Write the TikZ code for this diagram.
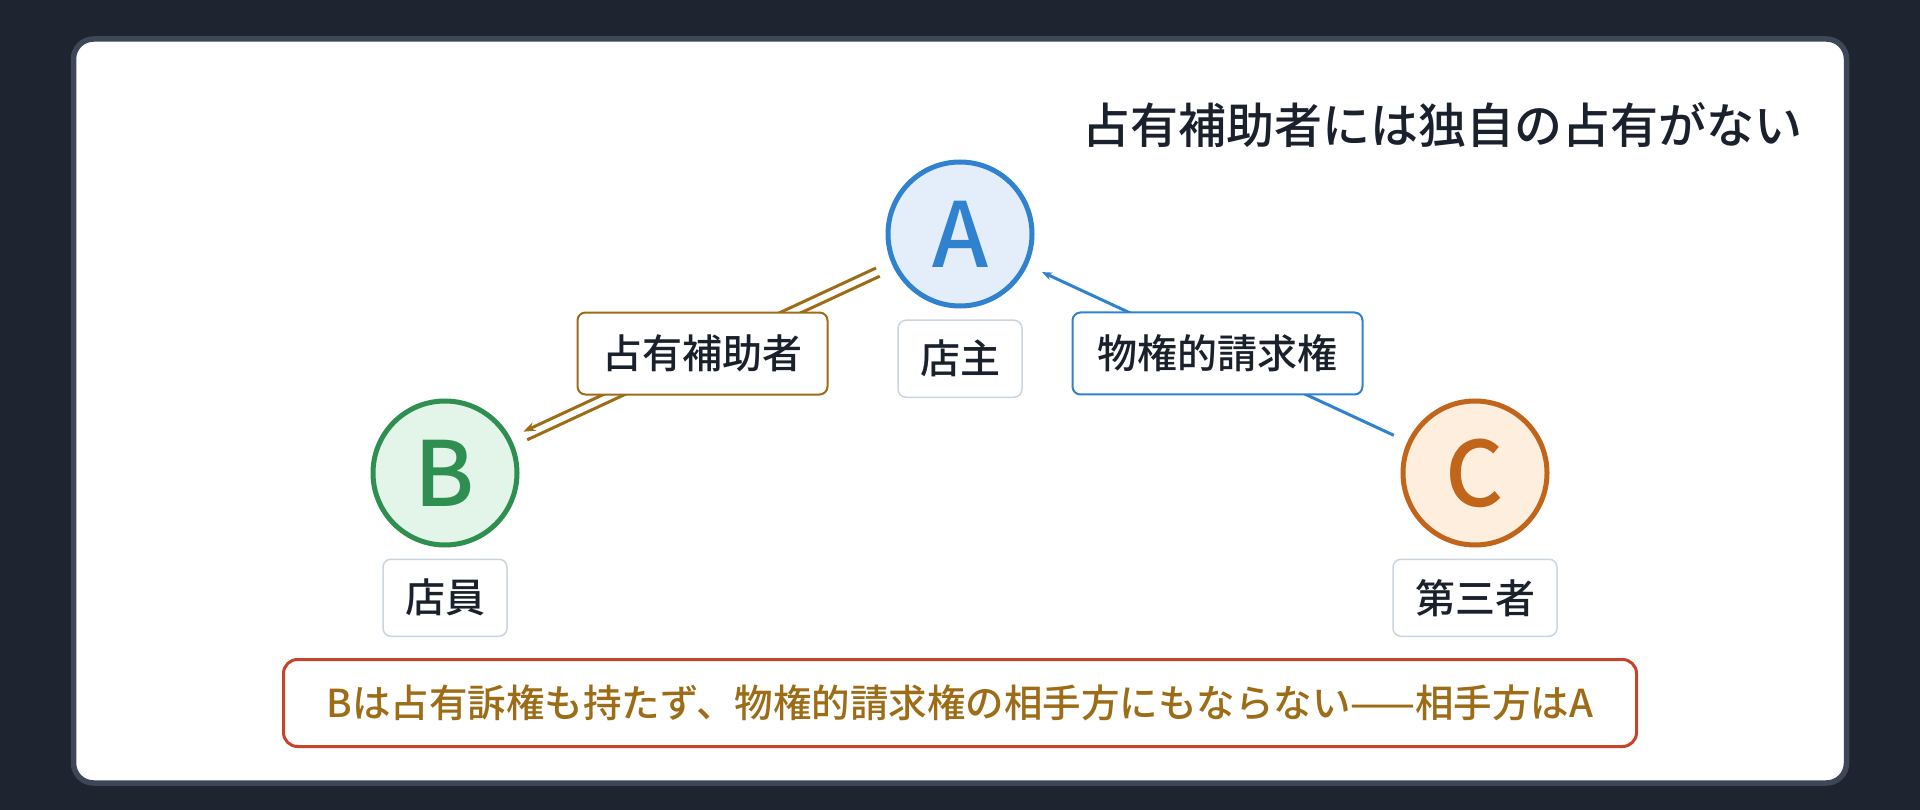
\documentclass[tikz,border=0pt]{standalone}
\usepackage{fontspec}
\setmainfont{Noto Sans CJK JP Medium}[BoldFont={Noto Sans CJK JP Bold}]
\usetikzlibrary{positioning}
\usetikzlibrary{arrows.meta}
\definecolor{pagebg}{HTML}{1E2430}
\definecolor{panelrim}{HTML}{3D4757}
\definecolor{ink}{HTML}{1A202C}
\definecolor{ownerblue}{HTML}{3182CE}
\definecolor{ownerfill}{HTML}{E3EEFA}
\definecolor{clerkgreen}{HTML}{2F8F50}
\definecolor{clerkfill}{HTML}{E3F5E9}
\definecolor{thirdorange}{HTML}{C0651A}
\definecolor{thirdfill}{HTML}{FDEEDD}
\definecolor{holderbrown}{HTML}{9C6C16}
\definecolor{tagrim}{HTML}{CBD5E0}
\definecolor{noterim}{HTML}{C8432B}
\tikzset {
  party/.style = {
    circle,
    draw,
    line width = 5pt,
    minimum size = 144pt,
    inner sep = 0,
    font = \fontsize{90}{90}\selectfont
  },
  % the shop owner
  owner/.style = {
    party,
    draw = ownerblue,
    fill = ownerfill,
    text = ownerblue
  },
  % the clerk
  clerk/.style = {
    party,
    draw = clerkgreen,
    fill = clerkfill,
    text = clerkgreen
  },
  % the third party
  third/.style = {
    party,
    draw = thirdorange,
    fill = thirdfill,
    text = thirdorange
  },
  % name under a party
  nametag/.style = {
    draw = tagrim,
    fill = white,
    line width = 1.5pt,
    rounded corners = 8pt,
    minimum height = 77pt,
    inner xsep = 22pt,
    text = ink,
    font = \fontsize{40}{40}\selectfont
  },
  % label on a connector
  edgetag/.style = {
    nametag,
    line width = 2pt,
    minimum height = 82pt,
    inner xsep = 25pt
  },
  node distance = 11pt
}
\tikzset {
  helper line/.style = {
    draw = holderbrown,
    line width = 3pt,
    shorten <= 16pt,
    shorten >= 14pt
  },
  claim line/.style = {
    draw = ownerblue,
    line width = 3pt,
    -{Stealth[length=10pt,width=8pt]},
    shorten <= 15pt,
    shorten >= 16pt
  }
}

\begin{document}
\begin{tikzpicture}[x=1pt,y=-1pt]
    \fill[pagebg] (0,0) rectangle (1920,810);
    \useasboundingbox (0,0) rectangle (1920,810);
    \draw[panelrim, fill=white, line width=5.5pt, rounded corners=20pt] (73.5,39) rectangle (1846.5,783);

    \node[anchor=east, text=ink, font=\fontsize{48}{48}\selectfont] (title) at (1806,125) {占有補助者には独自の占有がない};

    \node[owner] (A) at (960,234) {A};
    \node[clerk] (B) at (445,473) {B};
    \node[third] (C) at (1475,473) {C};
    \node[nametag] (A-name) [below=of A] {店主};
    \node[nametag] (B-name) [below=of B] {店員};
    \node[nametag] (C-name) [below=of C] {第三者};

    \draw[helper line, -{Stealth[length=12pt,width=9pt]}, transform canvas={shift={(-1.9,-4.1)}}] (A) -- (B);
    \draw[helper line, transform canvas={shift={(1.9,4.1)}}] (A) -- (B);
    \path (A) -- (B) node[edgetag, draw=holderbrown, midway] (holder-tag) {占有補助者};
    \draw[claim line] (C) -- (A) node[edgetag, draw=ownerblue, midway] (claim-tag) {物権的請求権};

    \node[draw=noterim, fill=white, line width=3pt, rounded corners=14pt, minimum width=1353pt, minimum height=87pt,
      text=holderbrown, font=\fontsize{38.5}{38.5}\selectfont] (note) at (960,703) {Bは占有訴権も持たず、物権的請求権の相手方にもならない——相手方はA};
  \end{tikzpicture}
\end{document}
